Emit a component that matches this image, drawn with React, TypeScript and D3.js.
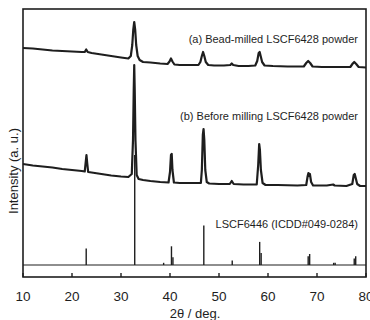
import React from 'react';
import * as d3 from 'd3';

// 2θ (deg) and stacked intensity (a.u.) for each pattern
const beadMilled: [number, number][] = [
  [10, 229], [12, 228.5], [14, 227.5], [16, 226.5], [18, 226], [20, 225.5], [22, 225],
  [22.6, 225], [22.9, 227.5], [23.2, 225], [24, 224], [26, 222.5], [28, 221], [30, 219.5],
  [31.5, 218.5], [32.0, 221], [32.3, 232], [32.5, 247], [32.7, 255], [32.9, 247], [33.1, 232],
  [33.4, 221], [33.8, 217], [34.5, 215], [36, 214.5], [38, 213.5], [39.5, 213], [39.9, 215.5],
  [40.2, 218.5], [40.5, 215.5], [40.9, 212.5], [42, 212], [44, 212], [45.8, 212], [46.2, 215],
  [46.5, 221], [46.75, 225], [47.0, 221], [47.3, 215], [47.8, 212], [49, 211.5], [51, 211.5],
  [52.3, 212], [52.6, 213.5], [52.9, 212], [54, 211], [56, 211], [57.4, 211.5], [57.8, 216],
  [58.1, 224], [58.3, 225], [58.5, 221], [58.8, 215], [59.3, 211.5], [61, 211], [64, 210.5],
  [67.3, 210.5], [67.8, 214], [68.2, 216], [68.6, 214], [69.1, 210.5], [71, 210], [73, 210],
  [76.8, 210], [77.3, 213.5], [77.6, 215], [78.0, 213], [78.5, 210], [80, 209.5],
];

const beforeMilling: [number, number][] = [
  [10, 113], [12, 111.5], [14, 110.5], [16, 109.5], [18, 108], [20, 107], [22, 106],
  [22.6, 105.5], [22.8, 115], [22.95, 122], [23.1, 114], [23.3, 105], [24, 104.5], [26, 103],
  [28, 101.5], [30, 100.5], [31.5, 100], [32.2, 103], [32.45, 137], [32.6, 187], [32.7, 212],
  [32.8, 187], [32.95, 137], [33.2, 102], [33.6, 98], [34.5, 97], [36, 96], [38, 95],
  [39.7, 94.5], [40.0, 105], [40.2, 122], [40.35, 123], [40.5, 107], [40.8, 94.5], [42, 94],
  [44, 94], [46.3, 94], [46.5, 107], [46.7, 142], [46.85, 148], [47.0, 137], [47.2, 107],
  [47.5, 95], [48, 93.5], [50, 93], [52.2, 93], [52.6, 96], [53.0, 93], [55, 92.5],
  [57.7, 92.5], [58.0, 112], [58.2, 133], [58.35, 127], [58.55, 107], [58.9, 94], [59.5, 92],
  [62, 92], [66, 91.5], [67.8, 92], [68.1, 101], [68.25, 104], [68.4, 101], [68.55, 103],
  [68.8, 95], [69.2, 91.5], [72, 91.5], [73.3, 92.5], [73.6, 91.5], [76, 91], [77.2, 93],
  [77.5, 102], [77.7, 103], [77.9, 99], [78.2, 93], [78.8, 91], [80, 91],
];

// LSCF6446 reference lines (ICDD#049-0284), relative intensity %
const refPos = [22.9, 32.8, 38.7, 40.3, 40.6, 46.9, 52.7, 58.3, 58.6, 68.2, 68.5, 73.4, 73.7, 77.6, 77.9];
const refInt = [15, 100, 2, 17, 7, 36, 4, 21, 11, 8, 10, 2, 2, 6, 8];
const refBase = 12;

const xTicks = [10, 20, 30, 40, 50, 60, 70, 80];

const W = 370;
const H = 320;
const m = { left: 23, right: 4, top: 9, bottom: 43 };
const font = '"Liberation Sans", Arial, sans-serif';
const ink = '#1e1e1e';

export default function App() {
  const x = d3.scaleLinear().domain([10, 80]).range([m.left, W - m.right]);
  const y = d3.scaleLinear().domain([0, H - m.top - m.bottom]).range([H - m.bottom, m.top]);
  const yRef = d3.scaleLinear().domain([0, 100]).range([y(refBase), y(refBase) - 110]);

  const line = d3.line<[number, number]>().x(d => x(d[0])).y(d => y(d[1]));

  const x0 = x.range()[0];
  const x1 = x.range()[1];
  const yb = y.range()[0];
  const yt = y.range()[1];

  return (
    <div style={{ position: 'absolute', left: 0, top: 0 }}>
      <svg width={W} height={H} style={{ display: 'block', fontFamily: font }}>
        <rect width={W} height={H} fill="#fff" />

        {/* reference stick pattern */}
        <line x1={x0} x2={x1} y1={y(refBase)} y2={y(refBase)} stroke={ink} strokeWidth={1.2} />
        {refPos.map((p, i) => (
          <line key={i} x1={x(p)} x2={x(p)} y1={y(refBase)} y2={yRef(refInt[i])}
            stroke={ink} strokeWidth={1.4} />
        ))}

        <path d={line(beforeMilling) ?? ''} fill="none" stroke={ink} strokeWidth={2.2} strokeLinejoin="round" />
        <path d={line(beadMilled) ?? ''} fill="none" stroke={ink} strokeWidth={2.2} strokeLinejoin="round" />

        {/* frame */}
        <rect x={x0} y={yt} width={x1 - x0} height={yb - yt} fill="none" stroke={ink} strokeWidth={1.6} />
        {xTicks.map(t => (
          <g key={t}>
            <line x1={x(t)} x2={x(t)} y1={yb} y2={yb - 4} stroke={ink} strokeWidth={1.4} />
            <text x={x(t)} y={301} textAnchor="middle" fontSize={13.5} fill={ink}>{t}</text>
          </g>
        ))}

        <text x={195} y={318} textAnchor="middle" fontSize={13} fill={ink}>2θ / deg.</text>
        <text transform={`translate(18,${171}) rotate(-90)`} textAnchor="middle" fontSize={13} fill={ink}>
          Intensity (a. u.)
        </text>

        <text x={358} y={43} textAnchor="end" fontSize={11} fill={ink}>(a) Bead-milled LSCF6428 powder</text>
        <text x={358} y={120} textAnchor="end" fontSize={11} fill={ink}>(b) Before milling LSCF6428 powder</text>
        <text x={358} y={228} textAnchor="end" fontSize={11} fill={ink}>LSCF6446 (ICDD#049-0284)</text>
      </svg>
    </div>
  );
}
